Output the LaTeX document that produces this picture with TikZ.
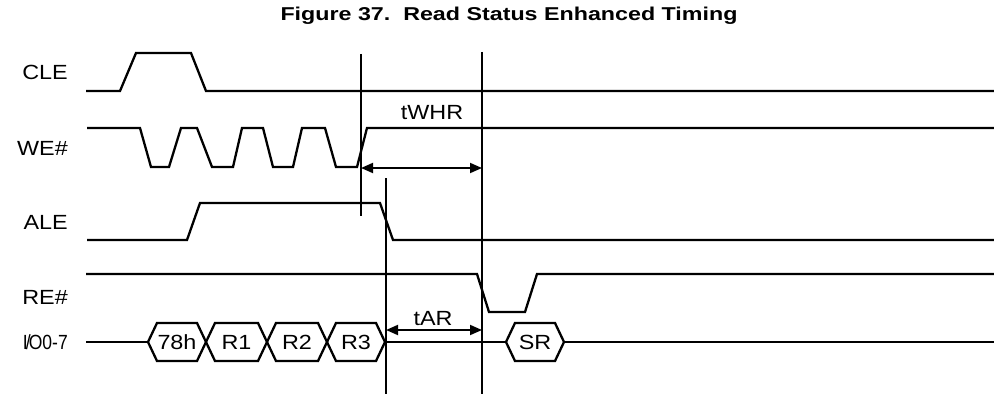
\documentclass[tikz,border=0pt]{standalone}
\usepackage{fontspec}
\usepackage{graphicx}
\setmainfont{Liberation Sans}[FakeStretch=1.14]
\newfontfamily\titlefont{Liberation Sans}[FakeStretch=1.25]
\usetikzlibrary{arrows.meta}

\begin{document}
\begin{tikzpicture}[
  x=1pt, y=-1pt,
  wave/.style={line width=2.3pt, line join=miter},
  markline/.style={line width=1.6pt},
  dimarrow/.style={{Triangle[length=12pt,width=10pt]}-{Triangle[length=12pt,width=10pt]},
                   line width=1.8pt},
  siglbl/.style={anchor=base east, inner sep=0pt, font=\fontsize{20.5}{24}\selectfont},
  txt/.style={anchor=base, inner sep=0pt, font=\fontsize{20.5}{24}\selectfont},
]
\useasboundingbox (0,0) rectangle (994,396);

% ---- title ----
\node[txt, font=\titlefont\fontsize{18.6}{22}\selectfont\bfseries] (title) at (509,21)
  {Figure 37.\ \ Read Status Enhanced Timing};

% ---- signal names ----
\node[siglbl] (cle) at (68,80)  {CLE};
\node[siglbl] (we)  at (68,155) {WE\#};
\node[siglbl] (ale) at (68,229) {ALE};
\node[siglbl] (re)  at (68,304) {RE\#};
\node[siglbl] (io)  at (68,349) {\scalebox{0.75}[1]{I\kern-2.5pt/\kern-2.5pt O0-7}};

% ---- waveforms ----
\draw[wave] (86,91) -- (120,91) -- (136,53) -- (191,53) -- (206,91) -- (994,91);
\draw[wave] (87,128) -- (140,128) -- (151,167) -- (169,167) -- (181,128)
  -- (197,128) -- (212,167) -- (233,167) -- (242,128)
  -- (263,128) -- (273,167) -- (293,167) -- (302,128)
  -- (325,128) -- (336,167) -- (357,167) -- (367,128) -- (994,128);
\draw[wave] (87,240) -- (187,240) -- (200,203) -- (380,203) -- (393,240) -- (994,240);
\draw[wave] (86,274) -- (477,274) -- (489,312) -- (525,312) -- (537,274) -- (994,274);

% ---- bus ----
\foreach \a/\b/\v in {148/206/78h, 206/267/R1, 267/327/R2, 327/385/R3, 506/564/SR} {
  \draw[wave] (\a,342) -- (\a+9,323) -- (\b-9,323) -- (\b,342)
    -- (\b-9,361) -- (\a+9,361) -- cycle;
  \node[txt] (bus-\v) at ({(\a+\b)/2},349) {\v};
}
\draw[wave] (86,342) -- (148,342);
\draw[wave] (385,342) -- (506,342);
\draw[wave] (564,342) -- (994,342);

% ---- timing marks ----
\coordinate (m1-top) at (361,54);  \coordinate (m1-bot) at (361,216);
\coordinate (m2-top) at (386,178); \coordinate (m2-bot) at (386,394);
\coordinate (m3-top) at (482,52);  \coordinate (m3-bot) at (482,394);
\draw[markline] (m1-top) -- (m1-bot);
\draw[markline] (m2-top) -- (m2-bot);
\draw[markline] (m3-top) -- (m3-bot);

\coordinate (twhr-l) at (361,168); \coordinate (twhr-r) at (482,168);
\coordinate (tar-l)  at (386,330); \coordinate (tar-r)  at (482,330);
\draw[dimarrow] (twhr-l) -- (twhr-r);
\draw[dimarrow] (tar-l) -- (tar-r);
\node[txt] (twhr) at (432,119) {tWHR};
\node[txt] (tar)  at (433,325) {tAR};

\end{tikzpicture}
\end{document}
